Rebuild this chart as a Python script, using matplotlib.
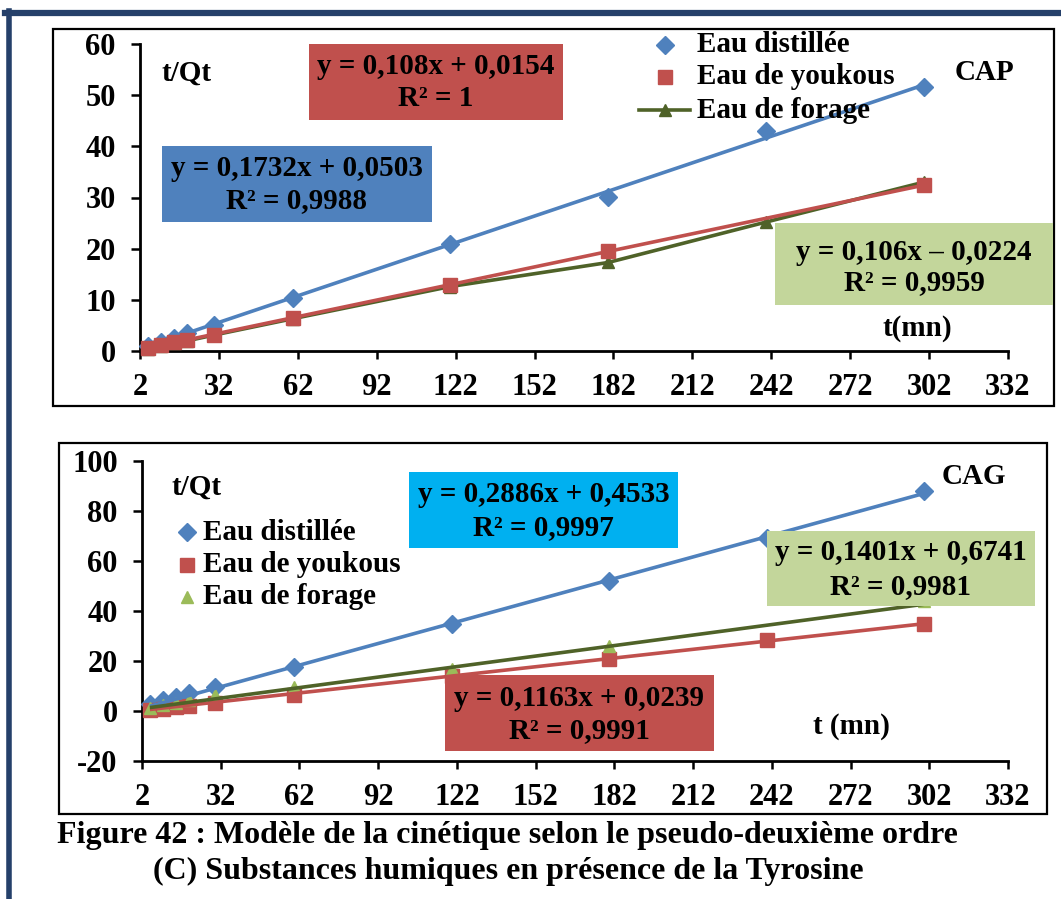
import matplotlib
matplotlib.use("Agg")
import matplotlib.pyplot as plt
import numpy as np
from matplotlib.patches import Rectangle
from matplotlib.lines import Line2D

plt.rcParams['font.family'] = ['Liberation Serif', 'DejaVu Serif']
plt.rcParams['font.weight'] = 'bold'
plt.rcParams['axes.unicode_minus'] = False

# ---- data ----
t_min = [5, 10, 15, 20, 30, 60, 120, 180, 240, 300]

# CAP
cap_distillee = [1.0, 1.8, 2.6, 3.5, 5.1, 10.4, 20.9, 30.1, 43.0, 51.5]
cap_youkous_t = [5, 10, 15, 20, 30, 60, 120, 180, 300]
cap_youkous = [0.5, 1.1, 1.7, 2.2, 3.2, 6.5, 12.9, 19.5, 32.5]
cap_forage = [0.4, 1.0, 1.5, 2.0, 3.1, 6.3, 12.6, 17.3, 25.2, 33.0]

# CAG
cag_distillee = [3.0, 4.4, 5.7, 7.1, 9.6, 17.7, 34.8, 52.0, 69.2, 88.0]
cag_youkous = [0.4, 1.0, 1.5, 2.1, 3.3, 6.6, 14.0, 20.8, 28.6, 34.7]
cag_forage_t = [5, 10, 15, 20, 30, 60, 120, 180, 300]
cag_forage = [1.2, 2.4, 3.2, 4.4, 6.4, 9.6, 17.0, 26.2, 44.0]

# trend lines (slope, intercept) as printed on the chart
fit_cap_distillee = (0.1732, 0.0503)
fit_cap_youkous = (0.108, 0.0154)
fit_cag_distillee = (0.2886, 0.4533)
fit_cag_forage = (0.1401, 0.6741)
fit_cag_youkous = (0.1163, 0.0239)

x_ticks = [2, 32, 62, 92, 122, 152, 182, 212, 242, 272, 302, 332]
cap_yticks = [0, 10, 20, 30, 40, 50, 60]
cag_yticks = [-20, 0, 20, 40, 60, 80, 100]

BLUE = '#4F81BD'
RED = '#C0504D'
OLIVE = '#4F6228'
LGREEN = '#9BBB59'
NAVY = '#25406A'

TXT = 21      # labels, legend and equations
TICK = 22     # tick labels
CAPT = 23     # caption

W, H = 1061, 899
fig = plt.figure(figsize=(W / 100, H / 100), dpi=100)
fig.patch.set_facecolor('white')


def fx(x):
    return x / W


def fy(y):
    return 1 - y / H


def frame(x0, y0, x1, y1, lw=1.6, fc='none', ec='black', z=2):
    fig.add_artist(Rectangle((fx(x0), fy(y1)), (x1 - x0) / W, (y1 - y0) / H,
                             transform=fig.transFigure, fc=fc, ec=ec, lw=lw,
                             zorder=z))


def ftext(x, y, s, ha='center', size=TXT, z=5):
    fig.text(fx(x), fy(y), s, ha=ha, va='center', fontsize=size,
             fontweight='bold', zorder=z)


def eq_box(x0, y0, x1, y1, color, line1, line2, y_l1, y_l2):
    frame(x0, y0, x1, y1, lw=0, fc=color, ec='none', z=4)
    xc = (x0 + x1) / 2
    ftext(xc, y_l1, line1)
    ftext(xc, y_l2, line2)


def style_axes(ax, ymin, ymax, yticks):
    ax.set_xlim(2, 332)
    ax.set_ylim(ymin, ymax)
    ax.set_xticks(x_ticks)
    ax.set_yticks(yticks)
    for s in ['top', 'right']:
        ax.spines[s].set_visible(False)
    for s in ['left', 'bottom']:
        ax.spines[s].set_linewidth(2.0)
        ax.spines[s].set_color('black')
    ax.tick_params(axis='x', direction='out', length=6, width=1.8, pad=10,
                   labelsize=TICK)
    ax.tick_params(axis='y', direction='out', length=6.5, width=1.8, pad=11,
                   labelsize=TICK)
    for lab in ax.get_xticklabels() + ax.get_yticklabels():
        lab.set_fontweight('bold')
    ax.patch.set_alpha(0)


def trend(ax, t, fit, color, lw=2.6, z=3):
    tt = np.array([min(t), max(t)])
    ax.plot(tt, fit[0] * tt + fit[1], color=color, lw=lw, zorder=z,
            solid_capstyle='butt', clip_on=False)


# ---- outer page border ----
fig.add_artist(Line2D([fx(5), 1], [fy(13), fy(13)], transform=fig.transFigure,
                      color=NAVY, lw=4.5, zorder=1))
fig.add_artist(Line2D([fx(8.5), fx(8.5)], [fy(11), 0], transform=fig.transFigure,
                      color=NAVY, lw=4, zorder=1))

# ---- CAP panel ----
ax1 = fig.add_axes([fx(140), fy(351), (1008 - 140) / W, (351 - 44) / H])
style_axes(ax1, 0, 60, cap_yticks)
ax1.plot(t_min, cap_distillee, ls='none', marker='D', ms=9, color=BLUE,
         zorder=4, clip_on=False)
trend(ax1, t_min, fit_cap_distillee, BLUE)
ax1.plot(cap_youkous_t, cap_youkous, ls='none', marker='s', ms=10, color=RED,
         zorder=4, clip_on=False)
ax1.plot(t_min, cap_forage, ls='-', lw=2.6, marker='^', ms=9, color=OLIVE,
         zorder=3, clip_on=False)
trend(ax1, cap_youkous_t, fit_cap_youkous, RED, z=3.5)

frame(53, 29, 1054, 406)
ftext(186, 73, 't/Qt')
ftext(985, 72, 'CAP')
ftext(917, 328, 't(mn)')

# legend
fig.add_artist(Line2D([fx(665)], [fy(45)], transform=fig.transFigure, marker='D',
                      ms=9, color=BLUE, ls='none', zorder=5))
fig.add_artist(Line2D([fx(665)], [fy(77)], transform=fig.transFigure, marker='s',
                      ms=10, color=RED, ls='none', zorder=5))
fig.add_artist(Line2D([fx(639), fx(690)], [fy(110), fy(110)],
                      transform=fig.transFigure, color=OLIVE, lw=2.6, zorder=5))
fig.add_artist(Line2D([fx(665)], [fy(110)], transform=fig.transFigure, marker='^',
                      ms=9, color=OLIVE, ls='none', zorder=5))
ftext(697, 45, 'Eau distillée', ha='left')
ftext(697, 77, 'Eau de youkous', ha='left')
ftext(697, 110, 'Eau de forage', ha='left')

eq_box(309, 44, 563, 120, RED, 'y = 0,108x + 0,0154', 'R² = 1', 67, 99)
eq_box(162, 146, 432, 222, BLUE, 'y = 0,1732x + 0,0503', 'R² = 0,9988', 168, 201)
eq_box(775, 223, 1053, 305, '#C3D69B', 'y = 0,106x – 0,0224', 'R² = 0,9959', 252, 283)

# ---- CAG panel ----
ax2 = fig.add_axes([fx(142), fy(761), (1008 - 142) / W, (761 - 461) / H])
style_axes(ax2, -20, 100, cag_yticks)
ax2.plot(t_min, cag_distillee, ls='none', marker='D', ms=9, color=BLUE,
         zorder=4, clip_on=False)
ax2.plot(t_min, cag_youkous, ls='none', marker='s', ms=10, color=RED,
         zorder=4, clip_on=False)
ax2.plot(cag_forage_t, cag_forage, ls='none', marker='^', ms=9, color=LGREEN,
         zorder=4, clip_on=False)
trend(ax2, t_min, fit_cag_distillee, BLUE, z=4.5)
trend(ax2, t_min, fit_cag_youkous, RED, z=4.5)
trend(ax2, cag_forage_t, fit_cag_forage, OLIVE, z=4.6)

frame(59, 443, 1047, 814)
ftext(196, 487, 't/Qt')
ftext(974, 476, 'CAG')
ftext(851, 727, 't (mn)')

fig.add_artist(Line2D([fx(187)], [fy(532)], transform=fig.transFigure, marker='D',
                      ms=9, color=BLUE, ls='none', zorder=5))
fig.add_artist(Line2D([fx(187)], [fy(565)], transform=fig.transFigure, marker='s',
                      ms=10, color=RED, ls='none', zorder=5))
fig.add_artist(Line2D([fx(187)], [fy(597)], transform=fig.transFigure, marker='^',
                      ms=9, color=LGREEN, ls='none', zorder=5))
ftext(203, 532, 'Eau distillée', ha='left')
ftext(203, 565, 'Eau de youkous', ha='left')
ftext(203, 597, 'Eau de forage', ha='left')

eq_box(409, 472, 678, 548, '#00B0F0', 'y = 0,2886x + 0,4533', 'R² = 0,9997', 494, 528)
eq_box(767, 531, 1035, 606, '#C3D69B', 'y = 0,1401x + 0,6741', 'R² = 0,9981', 553, 587)
eq_box(445, 675, 714, 751, RED, 'y = 0,1163x + 0,0239', 'R² = 0,9991', 698, 731)

# ---- caption ----
ftext(507, 835, 'Figure 42 : Modèle de la cinétique selon le pseudo-deuxième ordre',
      size=CAPT)
ftext(508, 871, '(C) Substances humiques en présence de la Tyrosine', size=CAPT)

fig.savefig('out.png', dpi=100, facecolor='white')
